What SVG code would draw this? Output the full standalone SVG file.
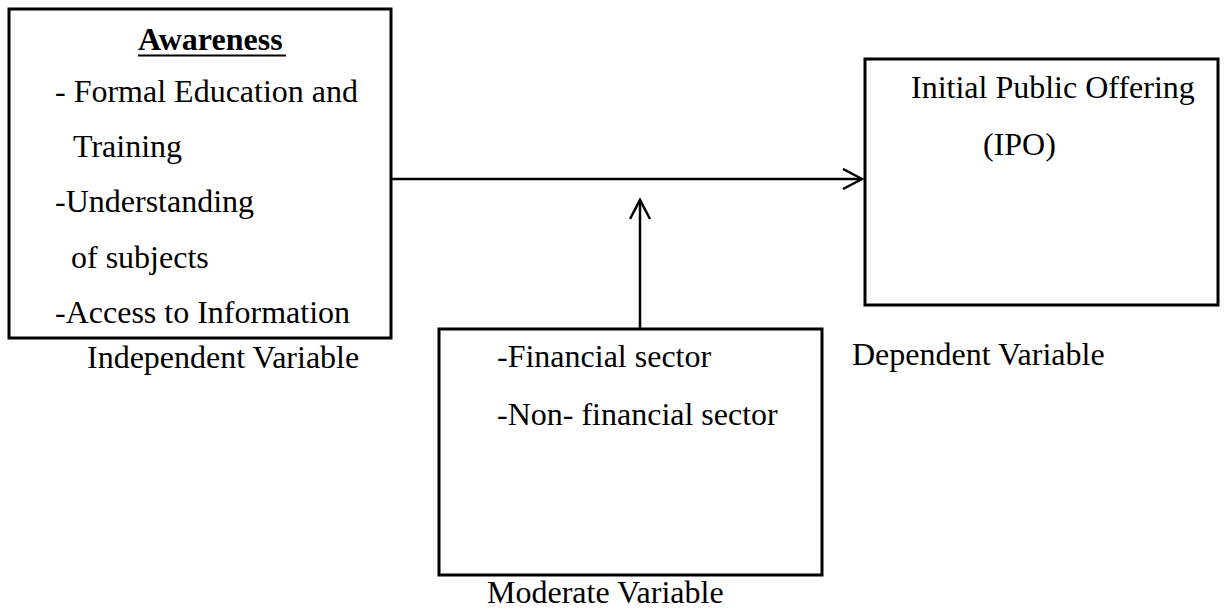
<svg xmlns="http://www.w3.org/2000/svg" width="1225" height="609" viewBox="0 0 1225 609">
<style>
.box{fill:#fff;stroke:#000;stroke-width:3}
.t{font-family:"Liberation Serif","Times New Roman",serif;font-size:32px;fill:#000}
.b{font-weight:bold}
.c{stroke:#000;stroke-width:2.5;fill:none}
</style>
<defs>
<marker id="arr" markerWidth="24" markerHeight="24" refX="20" refY="11" orient="auto" markerUnits="userSpaceOnUse">
<path d="M1,1 L20,11 L1,21" fill="none" stroke="#000" stroke-width="2.5"/>
</marker>
</defs>
<rect width="1225" height="609" fill="#fff"/>
<g id="connectors">
<line class="c" x1="391" y1="179" x2="862" y2="179" marker-end="url(#arr)"/>
<line class="c" x1="640" y1="329" x2="640" y2="200" marker-end="url(#arr)"/>
</g>
<g id="awareness">
<rect class="box" x="9" y="9" width="382" height="329"/>
<text class="t b" x="138" y="50">Awareness</text>
<line x1="138" y1="55.5" x2="286" y2="55.5" stroke="#000" stroke-width="2"/>
<text class="t" x="55" y="102">- Formal Education and</text>
<text class="t" x="73" y="157">Training</text>
<text class="t" x="55" y="212">-Understanding</text>
<text class="t" x="71" y="268">of subjects</text>
<text class="t" x="55" y="323">-Access to Information</text>
<text class="t" x="87" y="368">Independent Variable</text>
</g>
<g id="ipo">
<rect class="box" x="865" y="59" width="353" height="246"/>
<text class="t" x="911" y="98">Initial Public Offering</text>
<text class="t" x="983" y="155">(IPO)</text>
<text class="t" x="852" y="365">Dependent Variable</text>
</g>
<g id="moderate">
<rect class="box" x="439" y="329" width="383" height="246"/>
<text class="t" x="497" y="367">-Financial sector</text>
<text class="t" x="497" y="425">-Non- financial sector</text>
<text class="t" x="487" y="603">Moderate Variable</text>
</g>
</svg>
